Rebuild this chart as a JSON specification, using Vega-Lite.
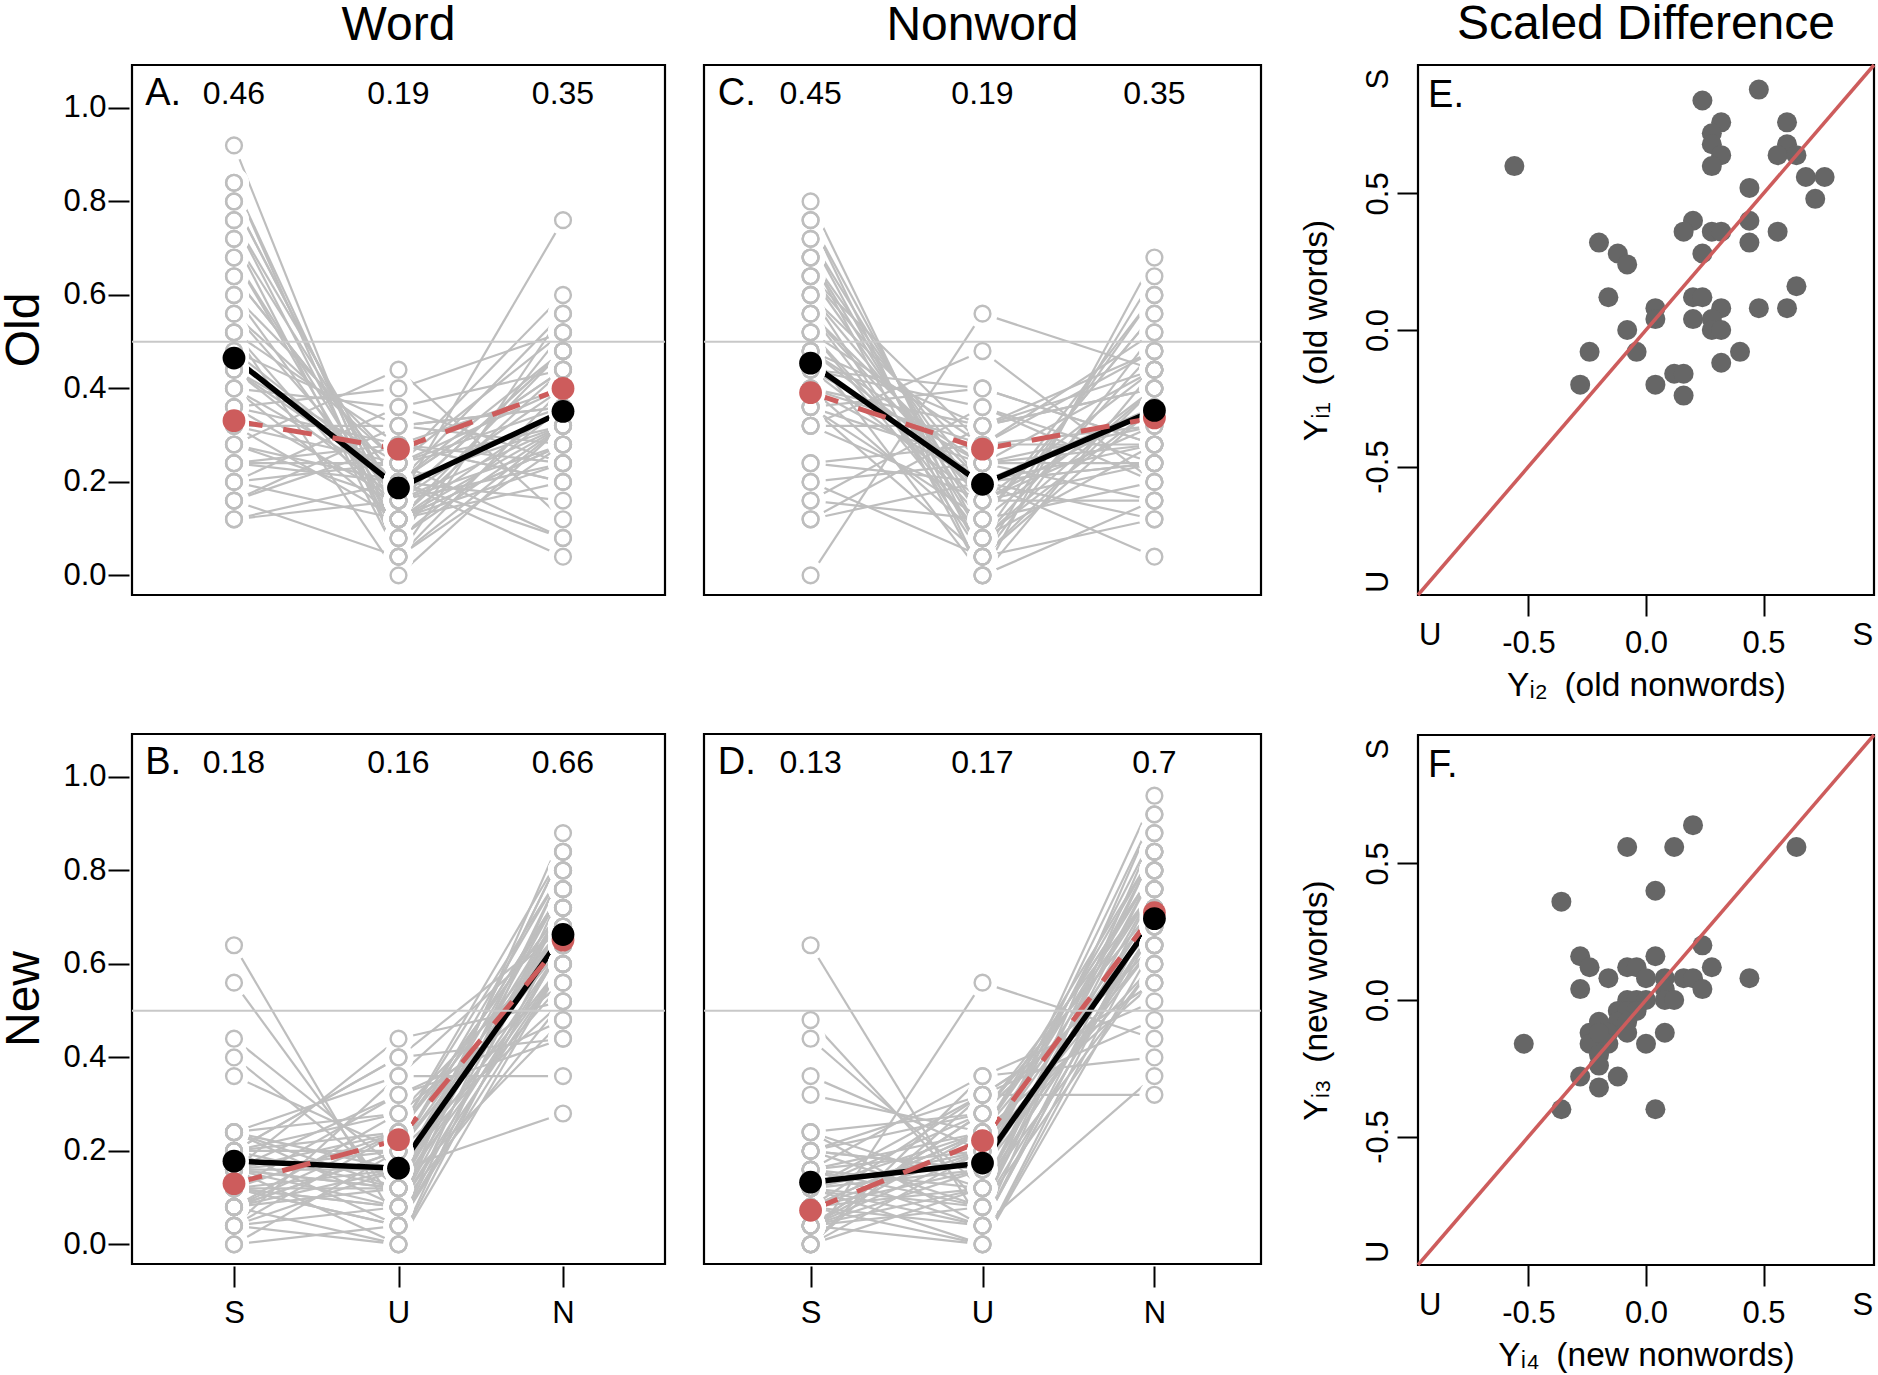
{
"$schema":"https://vega.github.io/schema/vega-lite/v6.json",
"padding":{"left":0,"top":0,"right":0,"bottom":0},
"background":"white",
"config":{"view":{"stroke":"black","strokeWidth":2.2},"font":"Liberation Sans",
"axis":{"grid":false,"domain":false,"tickSize":21,"tickWidth":2,"tickColor":"black","labelFontSize":31,"labelColor":"black","labelFont":"Liberation Sans","titleFont":"Liberation Sans","titleColor":"black","titleFontWeight":"normal","titleFontSize":31,"labelFlush":false,"labelOverlap":false},
"title":{"font":"Liberation Sans","fontSize":48,"fontWeight":"normal","color":"black"}},
"datasets":{
"main":[
{"lex":"Word","age":"Old","k":"s","S":0.92,"U":0.04,"N":0.28},{"lex":"Word","age":"Old","k":"s","S":0.84,"U":0.08,"N":0.32},{"lex":"Word","age":"Old","k":"s","S":0.84,"U":0.04,"N":0.32},{"lex":"Word","age":"Old","k":"s","S":0.80,"U":0.12,"N":0.44},{"lex":"Word","age":"Old","k":"s","S":0.80,"U":0.12,"N":0.24},{"lex":"Word","age":"Old","k":"s","S":0.76,"U":0.16,"N":0.48},{"lex":"Word","age":"Old","k":"s","S":0.76,"U":0.08,"N":0.36},{"lex":"Word","age":"Old","k":"s","S":0.72,"U":0.16,"N":0.24},{"lex":"Word","age":"Old","k":"s","S":0.72,"U":0.04,"N":0.40},{"lex":"Word","age":"Old","k":"s","S":0.68,"U":0.12,"N":0.28},{"lex":"Word","age":"Old","k":"s","S":0.68,"U":0.08,"N":0.52},{"lex":"Word","age":"Old","k":"s","S":0.64,"U":0.20,"N":0.16},{"lex":"Word","age":"Old","k":"s","S":0.64,"U":0.20,"N":0.44},{"lex":"Word","age":"Old","k":"s","S":0.60,"U":0.12,"N":0.32},{"lex":"Word","age":"Old","k":"s","S":0.60,"U":0.24,"N":0.08},{"lex":"Word","age":"Old","k":"s","S":0.56,"U":0.16,"N":0.40},{"lex":"Word","age":"Old","k":"s","S":0.56,"U":0.24,"N":0.36},{"lex":"Word","age":"Old","k":"s","S":0.52,"U":0.28,"N":0.20},{"lex":"Word","age":"Old","k":"s","S":0.52,"U":0.12,"N":0.48},{"lex":"Word","age":"Old","k":"s","S":0.48,"U":0.20,"N":0.04},{"lex":"Word","age":"Old","k":"s","S":0.48,"U":0.32,"N":0.36},{"lex":"Word","age":"Old","k":"s","S":0.44,"U":0.16,"N":0.76},{"lex":"Word","age":"Old","k":"s","S":0.44,"U":0.24,"N":0.32},{"lex":"Word","age":"Old","k":"s","S":0.44,"U":0.20,"N":0.56},{"lex":"Word","age":"Old","k":"s","S":0.40,"U":0.36,"N":0.24},{"lex":"Word","age":"Old","k":"s","S":0.40,"U":0.20,"N":0.44},{"lex":"Word","age":"Old","k":"s","S":0.40,"U":0.12,"N":0.28},{"lex":"Word","age":"Old","k":"s","S":0.36,"U":0.28,"N":0.40},{"lex":"Word","age":"Old","k":"s","S":0.36,"U":0.16,"N":0.28},{"lex":"Word","age":"Old","k":"s","S":0.36,"U":0.40,"N":0.52},{"lex":"Word","age":"Old","k":"s","S":0.32,"U":0.24,"N":0.60},{"lex":"Word","age":"Old","k":"s","S":0.32,"U":0.12,"N":0.20},{"lex":"Word","age":"Old","k":"s","S":0.32,"U":0.32,"N":0.36},{"lex":"Word","age":"Old","k":"s","S":0.28,"U":0.20,"N":0.48},{"lex":"Word","age":"Old","k":"s","S":0.28,"U":0.44,"N":0.12},{"lex":"Word","age":"Old","k":"s","S":0.28,"U":0.16,"N":0.32},{"lex":"Word","age":"Old","k":"s","S":0.24,"U":0.28,"N":0.24},{"lex":"Word","age":"Old","k":"s","S":0.24,"U":0.24,"N":0.40},{"lex":"Word","age":"Old","k":"s","S":0.24,"U":0.20,"N":0.08},{"lex":"Word","age":"Old","k":"s","S":0.20,"U":0.36,"N":0.44},{"lex":"Word","age":"Old","k":"s","S":0.20,"U":0.24,"N":0.52},{"lex":"Word","age":"Old","k":"s","S":0.20,"U":0.12,"N":0.36},{"lex":"Word","age":"Old","k":"s","S":0.16,"U":0.32,"N":0.28},{"lex":"Word","age":"Old","k":"s","S":0.16,"U":0.04,"N":0.56},{"lex":"Word","age":"Old","k":"s","S":0.16,"U":0.28,"N":0.20},{"lex":"Word","age":"Old","k":"s","S":0.12,"U":0.20,"N":0.32},{"lex":"Word","age":"Old","k":"s","S":0.12,"U":0.16,"N":0.48},{"lex":"Word","age":"Old","k":"s","S":0.52,"U":0.00,"N":0.32},
{"lex":"Nonword","age":"Old","k":"s","S":0.80,"U":0.04,"N":0.36},{"lex":"Nonword","age":"Old","k":"s","S":0.76,"U":0.08,"N":0.28},{"lex":"Nonword","age":"Old","k":"s","S":0.76,"U":0.00,"N":0.44},{"lex":"Nonword","age":"Old","k":"s","S":0.72,"U":0.12,"N":0.20},{"lex":"Nonword","age":"Old","k":"s","S":0.72,"U":0.04,"N":0.52},{"lex":"Nonword","age":"Old","k":"s","S":0.68,"U":0.16,"N":0.32},{"lex":"Nonword","age":"Old","k":"s","S":0.68,"U":0.08,"N":0.60},{"lex":"Nonword","age":"Old","k":"s","S":0.64,"U":0.20,"N":0.24},{"lex":"Nonword","age":"Old","k":"s","S":0.64,"U":0.12,"N":0.40},{"lex":"Nonword","age":"Old","k":"s","S":0.60,"U":0.04,"N":0.64},{"lex":"Nonword","age":"Old","k":"s","S":0.60,"U":0.24,"N":0.16},{"lex":"Nonword","age":"Old","k":"s","S":0.56,"U":0.16,"N":0.36},{"lex":"Nonword","age":"Old","k":"s","S":0.56,"U":0.08,"N":0.48},{"lex":"Nonword","age":"Old","k":"s","S":0.52,"U":0.28,"N":0.28},{"lex":"Nonword","age":"Old","k":"s","S":0.52,"U":0.12,"N":0.56},{"lex":"Nonword","age":"Old","k":"s","S":0.48,"U":0.20,"N":0.12},{"lex":"Nonword","age":"Old","k":"s","S":0.48,"U":0.32,"N":0.40},{"lex":"Nonword","age":"Old","k":"s","S":0.48,"U":0.00,"N":0.68},{"lex":"Nonword","age":"Old","k":"s","S":0.44,"U":0.24,"N":0.32},{"lex":"Nonword","age":"Old","k":"s","S":0.44,"U":0.16,"N":0.44},{"lex":"Nonword","age":"Old","k":"s","S":0.44,"U":0.36,"N":0.20},{"lex":"Nonword","age":"Old","k":"s","S":0.40,"U":0.08,"N":0.36},{"lex":"Nonword","age":"Old","k":"s","S":0.40,"U":0.28,"N":0.52},{"lex":"Nonword","age":"Old","k":"s","S":0.40,"U":0.20,"N":0.24},{"lex":"Nonword","age":"Old","k":"s","S":0.36,"U":0.40,"N":0.28},{"lex":"Nonword","age":"Old","k":"s","S":0.36,"U":0.12,"N":0.60},{"lex":"Nonword","age":"Old","k":"s","S":0.36,"U":0.24,"N":0.44},{"lex":"Nonword","age":"Old","k":"s","S":0.32,"U":0.16,"N":0.16},{"lex":"Nonword","age":"Old","k":"s","S":0.32,"U":0.32,"N":0.48},{"lex":"Nonword","age":"Old","k":"s","S":0.32,"U":0.48,"N":0.20},{"lex":"Nonword","age":"Old","k":"s","S":0.24,"U":0.20,"N":0.36},{"lex":"Nonword","age":"Old","k":"s","S":0.24,"U":0.28,"N":0.32},{"lex":"Nonword","age":"Old","k":"s","S":0.20,"U":0.04,"N":0.40},{"lex":"Nonword","age":"Old","k":"s","S":0.20,"U":0.24,"N":0.28},{"lex":"Nonword","age":"Old","k":"s","S":0.16,"U":0.36,"N":0.24},{"lex":"Nonword","age":"Old","k":"s","S":0.16,"U":0.12,"N":0.56},{"lex":"Nonword","age":"Old","k":"s","S":0.12,"U":0.20,"N":0.04},{"lex":"Nonword","age":"Old","k":"s","S":0.12,"U":0.32,"N":0.44},{"lex":"Nonword","age":"Old","k":"s","S":0.00,"U":0.56,"N":0.44},{"lex":"Nonword","age":"Old","k":"s","S":0.60,"U":0.16,"N":0.24},{"lex":"Nonword","age":"Old","k":"s","S":0.52,"U":0.08,"N":0.40},{"lex":"Nonword","age":"Old","k":"s","S":0.44,"U":0.40,"N":0.28},{"lex":"Nonword","age":"Old","k":"s","S":0.56,"U":0.20,"N":0.28},{"lex":"Nonword","age":"Old","k":"s","S":0.64,"U":0.28,"N":0.48},{"lex":"Nonword","age":"Old","k":"s","S":0.36,"U":0.04,"N":0.12},{"lex":"Nonword","age":"Old","k":"s","S":0.48,"U":0.24,"N":0.24},{"lex":"Nonword","age":"Old","k":"s","S":0.68,"U":0.00,"N":0.16},{"lex":"Nonword","age":"Old","k":"s","S":0.40,"U":0.32,"N":0.40},
{"lex":"Word","age":"New","k":"s","S":0.64,"U":0.04,"N":0.72},{"lex":"Word","age":"New","k":"s","S":0.56,"U":0.08,"N":0.64},{"lex":"Word","age":"New","k":"s","S":0.44,"U":0.16,"N":0.60},{"lex":"Word","age":"New","k":"s","S":0.40,"U":0.12,"N":0.76},{"lex":"Word","age":"New","k":"s","S":0.36,"U":0.20,"N":0.52},{"lex":"Word","age":"New","k":"s","S":0.24,"U":0.36,"N":0.68},{"lex":"Word","age":"New","k":"s","S":0.24,"U":0.08,"N":0.80},{"lex":"Word","age":"New","k":"s","S":0.24,"U":0.28,"N":0.56},{"lex":"Word","age":"New","k":"s","S":0.20,"U":0.40,"N":0.44},{"lex":"Word","age":"New","k":"s","S":0.20,"U":0.12,"N":0.72},{"lex":"Word","age":"New","k":"s","S":0.20,"U":0.24,"N":0.84},{"lex":"Word","age":"New","k":"s","S":0.20,"U":0.04,"N":0.60},{"lex":"Word","age":"New","k":"s","S":0.16,"U":0.32,"N":0.48},{"lex":"Word","age":"New","k":"s","S":0.16,"U":0.16,"N":0.76},{"lex":"Word","age":"New","k":"s","S":0.16,"U":0.00,"N":0.68},{"lex":"Word","age":"New","k":"s","S":0.16,"U":0.20,"N":0.64},{"lex":"Word","age":"New","k":"s","S":0.16,"U":0.44,"N":0.52},{"lex":"Word","age":"New","k":"s","S":0.12,"U":0.08,"N":0.88},{"lex":"Word","age":"New","k":"s","S":0.12,"U":0.24,"N":0.72},{"lex":"Word","age":"New","k":"s","S":0.12,"U":0.12,"N":0.60},{"lex":"Word","age":"New","k":"s","S":0.12,"U":0.32,"N":0.44},{"lex":"Word","age":"New","k":"s","S":0.12,"U":0.04,"N":0.80},{"lex":"Word","age":"New","k":"s","S":0.08,"U":0.20,"N":0.68},{"lex":"Word","age":"New","k":"s","S":0.08,"U":0.16,"N":0.56},{"lex":"Word","age":"New","k":"s","S":0.08,"U":0.00,"N":0.76},{"lex":"Word","age":"New","k":"s","S":0.08,"U":0.28,"N":0.64},{"lex":"Word","age":"New","k":"s","S":0.08,"U":0.12,"N":0.84},{"lex":"Word","age":"New","k":"s","S":0.04,"U":0.24,"N":0.72},{"lex":"Word","age":"New","k":"s","S":0.04,"U":0.08,"N":0.60},{"lex":"Word","age":"New","k":"s","S":0.04,"U":0.16,"N":0.68},{"lex":"Word","age":"New","k":"s","S":0.04,"U":0.36,"N":0.36},{"lex":"Word","age":"New","k":"s","S":0.00,"U":0.20,"N":0.80},{"lex":"Word","age":"New","k":"s","S":0.00,"U":0.04,"N":0.64},{"lex":"Word","age":"New","k":"s","S":0.24,"U":0.12,"N":0.48},{"lex":"Word","age":"New","k":"s","S":0.20,"U":0.20,"N":0.76},{"lex":"Word","age":"New","k":"s","S":0.16,"U":0.08,"N":0.72},{"lex":"Word","age":"New","k":"s","S":0.12,"U":0.16,"N":0.28},{"lex":"Word","age":"New","k":"s","S":0.08,"U":0.24,"N":0.68},{"lex":"Word","age":"New","k":"s","S":0.20,"U":0.28,"N":0.56},{"lex":"Word","age":"New","k":"s","S":0.16,"U":0.12,"N":0.84},{"lex":"Word","age":"New","k":"s","S":0.12,"U":0.04,"N":0.64},{"lex":"Word","age":"New","k":"s","S":0.24,"U":0.16,"N":0.72},{"lex":"Word","age":"New","k":"s","S":0.04,"U":0.00,"N":0.60},{"lex":"Word","age":"New","k":"s","S":0.20,"U":0.40,"N":0.68},{"lex":"Word","age":"New","k":"s","S":0.16,"U":0.24,"N":0.80},{"lex":"Word","age":"New","k":"s","S":0.12,"U":0.08,"N":0.52},{"lex":"Word","age":"New","k":"s","S":0.08,"U":0.20,"N":0.76},{"lex":"Word","age":"New","k":"s","S":0.16,"U":0.12,"N":0.64},
{"lex":"Nonword","age":"New","k":"s","S":0.64,"U":0.04,"N":0.72},{"lex":"Nonword","age":"New","k":"s","S":0.48,"U":0.08,"N":0.68},{"lex":"Nonword","age":"New","k":"s","S":0.44,"U":0.12,"N":0.80},{"lex":"Nonword","age":"New","k":"s","S":0.36,"U":0.20,"N":0.60},{"lex":"Nonword","age":"New","k":"s","S":0.32,"U":0.24,"N":0.76},{"lex":"Nonword","age":"New","k":"s","S":0.24,"U":0.12,"N":0.84},{"lex":"Nonword","age":"New","k":"s","S":0.24,"U":0.28,"N":0.64},{"lex":"Nonword","age":"New","k":"s","S":0.20,"U":0.08,"N":0.92},{"lex":"Nonword","age":"New","k":"s","S":0.20,"U":0.32,"N":0.56},{"lex":"Nonword","age":"New","k":"s","S":0.20,"U":0.16,"N":0.72},{"lex":"Nonword","age":"New","k":"s","S":0.16,"U":0.04,"N":0.88},{"lex":"Nonword","age":"New","k":"s","S":0.16,"U":0.24,"N":0.68},{"lex":"Nonword","age":"New","k":"s","S":0.16,"U":0.36,"N":0.52},{"lex":"Nonword","age":"New","k":"s","S":0.16,"U":0.12,"N":0.76},{"lex":"Nonword","age":"New","k":"s","S":0.12,"U":0.20,"N":0.80},{"lex":"Nonword","age":"New","k":"s","S":0.12,"U":0.00,"N":0.64},{"lex":"Nonword","age":"New","k":"s","S":0.12,"U":0.28,"N":0.72},{"lex":"Nonword","age":"New","k":"s","S":0.12,"U":0.16,"N":0.96},{"lex":"Nonword","age":"New","k":"s","S":0.12,"U":0.08,"N":0.60},{"lex":"Nonword","age":"New","k":"s","S":0.08,"U":0.24,"N":0.84},{"lex":"Nonword","age":"New","k":"s","S":0.08,"U":0.12,"N":0.68},{"lex":"Nonword","age":"New","k":"s","S":0.08,"U":0.32,"N":0.48},{"lex":"Nonword","age":"New","k":"s","S":0.08,"U":0.04,"N":0.76},{"lex":"Nonword","age":"New","k":"s","S":0.08,"U":0.20,"N":0.72},{"lex":"Nonword","age":"New","k":"s","S":0.04,"U":0.16,"N":0.88},{"lex":"Nonword","age":"New","k":"s","S":0.04,"U":0.28,"N":0.64},{"lex":"Nonword","age":"New","k":"s","S":0.04,"U":0.08,"N":0.80},{"lex":"Nonword","age":"New","k":"s","S":0.04,"U":0.24,"N":0.56},{"lex":"Nonword","age":"New","k":"s","S":0.04,"U":0.00,"N":0.72},{"lex":"Nonword","age":"New","k":"s","S":0.00,"U":0.56,"N":0.44},{"lex":"Nonword","age":"New","k":"s","S":0.00,"U":0.12,"N":0.68},{"lex":"Nonword","age":"New","k":"s","S":0.00,"U":0.20,"N":0.84},{"lex":"Nonword","age":"New","k":"s","S":0.00,"U":0.36,"N":0.40},{"lex":"Nonword","age":"New","k":"s","S":0.20,"U":0.28,"N":0.76},{"lex":"Nonword","age":"New","k":"s","S":0.16,"U":0.20,"N":0.64},{"lex":"Nonword","age":"New","k":"s","S":0.12,"U":0.24,"N":0.80},{"lex":"Nonword","age":"New","k":"s","S":0.08,"U":0.16,"N":0.92},{"lex":"Nonword","age":"New","k":"s","S":0.04,"U":0.12,"N":0.60},{"lex":"Nonword","age":"New","k":"s","S":0.00,"U":0.32,"N":0.32},{"lex":"Nonword","age":"New","k":"s","S":0.24,"U":0.04,"N":0.72},{"lex":"Nonword","age":"New","k":"s","S":0.16,"U":0.08,"N":0.84},{"lex":"Nonword","age":"New","k":"s","S":0.12,"U":0.32,"N":0.56},{"lex":"Nonword","age":"New","k":"s","S":0.08,"U":0.00,"N":0.68},{"lex":"Nonword","age":"New","k":"s","S":0.04,"U":0.20,"N":0.76},{"lex":"Nonword","age":"New","k":"s","S":0.20,"U":0.16,"N":0.64},{"lex":"Nonword","age":"New","k":"s","S":0.12,"U":0.04,"N":0.36},{"lex":"Nonword","age":"New","k":"s","S":0.08,"U":0.24,"N":0.80},{"lex":"Nonword","age":"New","k":"s","S":0.04,"U":0.28,"N":0.72},
{"lex":"Word","age":"Old","k":"b","S":0.465,"U":0.187,"N":0.351,"tS":"0.46","tU":"0.19","tN":"0.35","L":"A."},
{"lex":"Word","age":"Old","k":"r","S":0.331,"U":0.270,"N":0.400},
{"lex":"Nonword","age":"Old","k":"b","S":0.454,"U":0.195,"N":0.353,"tS":"0.45","tU":"0.19","tN":"0.35","L":"C."},
{"lex":"Nonword","age":"Old","k":"r","S":0.391,"U":0.270,"N":0.337},
{"lex":"Word","age":"New","k":"b","S":0.178,"U":0.163,"N":0.663,"tS":"0.18","tU":"0.16","tN":"0.66","L":"B."},
{"lex":"Word","age":"New","k":"r","S":0.130,"U":0.224,"N":0.651},
{"lex":"Nonword","age":"New","k":"b","S":0.133,"U":0.174,"N":0.697,"tS":"0.13","tU":"0.17","tN":"0.7","L":"D."},
{"lex":"Nonword","age":"New","k":"r","S":0.073,"U":0.222,"N":0.710}
],
"sc":[
{"p":"E","x":0.48,"y":0.88},{"p":"E","x":0.24,"y":0.84},{"p":"E","x":0.32,"y":0.76},{"p":"E","x":0.28,"y":0.72},{"p":"E","x":0.28,"y":0.68},{"p":"E","x":0.32,"y":0.64},{"p":"E","x":0.28,"y":0.60},{"p":"E","x":0.60,"y":0.76},{"p":"E","x":0.60,"y":0.68},{"p":"E","x":0.56,"y":0.64},{"p":"E","x":0.64,"y":0.64},{"p":"E","x":-0.56,"y":0.60},{"p":"E","x":0.68,"y":0.56},{"p":"E","x":0.76,"y":0.56},{"p":"E","x":0.72,"y":0.48},{"p":"E","x":0.44,"y":0.52},{"p":"E","x":0.20,"y":0.40},{"p":"E","x":0.16,"y":0.36},{"p":"E","x":0.28,"y":0.36},{"p":"E","x":0.32,"y":0.36},{"p":"E","x":0.44,"y":0.40},{"p":"E","x":0.56,"y":0.36},{"p":"E","x":0.44,"y":0.32},{"p":"E","x":0.24,"y":0.28},{"p":"E","x":-0.20,"y":0.32},{"p":"E","x":-0.12,"y":0.28},{"p":"E","x":-0.08,"y":0.24},{"p":"E","x":0.64,"y":0.16},{"p":"E","x":-0.16,"y":0.12},{"p":"E","x":0.20,"y":0.12},{"p":"E","x":0.24,"y":0.12},{"p":"E","x":0.04,"y":0.08},{"p":"E","x":0.32,"y":0.08},{"p":"E","x":0.48,"y":0.08},{"p":"E","x":0.60,"y":0.08},{"p":"E","x":0.04,"y":0.04},{"p":"E","x":0.20,"y":0.04},{"p":"E","x":0.28,"y":0.04},{"p":"E","x":-0.08,"y":0.00},{"p":"E","x":0.28,"y":0.00},{"p":"E","x":0.32,"y":0.00},{"p":"E","x":-0.24,"y":-0.08},{"p":"E","x":-0.04,"y":-0.08},{"p":"E","x":0.40,"y":-0.08},{"p":"E","x":0.32,"y":-0.12},{"p":"E","x":0.12,"y":-0.16},{"p":"E","x":0.16,"y":-0.16},{"p":"E","x":-0.28,"y":-0.20},{"p":"E","x":0.04,"y":-0.20},{"p":"E","x":0.16,"y":-0.24},
{"p":"F","x":0.20,"y":0.64},{"p":"F","x":-0.08,"y":0.56},{"p":"F","x":0.12,"y":0.56},{"p":"F","x":0.64,"y":0.56},{"p":"F","x":0.04,"y":0.40},{"p":"F","x":-0.36,"y":0.36},{"p":"F","x":0.24,"y":0.20},{"p":"F","x":-0.28,"y":0.16},{"p":"F","x":0.04,"y":0.16},{"p":"F","x":-0.24,"y":0.12},{"p":"F","x":-0.08,"y":0.12},{"p":"F","x":-0.04,"y":0.12},{"p":"F","x":0.28,"y":0.12},{"p":"F","x":-0.16,"y":0.08},{"p":"F","x":0.00,"y":0.08},{"p":"F","x":0.08,"y":0.08},{"p":"F","x":0.16,"y":0.08},{"p":"F","x":0.20,"y":0.08},{"p":"F","x":0.44,"y":0.08},{"p":"F","x":-0.28,"y":0.04},{"p":"F","x":0.08,"y":0.04},{"p":"F","x":0.24,"y":0.04},{"p":"F","x":-0.08,"y":0.00},{"p":"F","x":-0.04,"y":0.00},{"p":"F","x":0.00,"y":0.00},{"p":"F","x":0.08,"y":0.00},{"p":"F","x":0.12,"y":0.00},{"p":"F","x":-0.12,"y":-0.04},{"p":"F","x":-0.08,"y":-0.04},{"p":"F","x":-0.04,"y":-0.04},{"p":"F","x":-0.12,"y":-0.08},{"p":"F","x":-0.08,"y":-0.08},{"p":"F","x":-0.20,"y":-0.08},{"p":"F","x":-0.24,"y":-0.12},{"p":"F","x":-0.16,"y":-0.12},{"p":"F","x":-0.08,"y":-0.12},{"p":"F","x":0.08,"y":-0.12},{"p":"F","x":-0.24,"y":-0.16},{"p":"F","x":-0.16,"y":-0.16},{"p":"F","x":0.00,"y":-0.16},{"p":"F","x":-0.52,"y":-0.16},{"p":"F","x":-0.20,"y":-0.20},{"p":"F","x":-0.20,"y":-0.24},{"p":"F","x":-0.28,"y":-0.28},{"p":"F","x":-0.12,"y":-0.28},{"p":"F","x":-0.20,"y":-0.32},{"p":"F","x":-0.36,"y":-0.40},{"p":"F","x":0.04,"y":-0.40},{"p":"F","x":-0.20,"y":-0.12}
]},
"spacing":33,
"hconcat":[
{"data":{"name":"main"},"transform":[{"filter":"datum.lex=='Word'"}],
"facet":{"row":{"field":"age","type":"nominal","sort":["Old","New"],"title":null,"header":{"labelFontSize":48,"labelAngle":-90,"labelPadding":-10,"labelFont":"Liberation Sans","labelColor":"black"}},
"column":{"field":"lex","type":"nominal","title":null,"header":{"labelFontSize":48,"labelPadding":13,"labelFont":"Liberation Sans","labelColor":"black"}}},
"spacing":{"row":135,"column":0},
"spec":{"width":533,"height":530,"layer":[
{"transform":[{"filter":"datum.k=='s'"}],"mark":{"type":"rule","color":"#BEBEBE","strokeWidth":2.2},"encoding":{"x":{"datum":1,"type":"quantitative","scale":{"domain":[0.38,3.62],"nice":false,"zero":false},"axis":{"values":[1,2,3],"labelExpr":"datum.value==1?'S':datum.value==2?'U':'N'","title":null,"labelPadding":11}},"x2":{"datum":2},"y":{"field":"S","type":"quantitative","scale":{"domain":[-0.042,1.092],"nice":false,"zero":false},"axis":{"values":[0,0.2,0.4,0.6,0.8,1],"format":".1f","title":null,"labelPadding":2}},"y2":{"field":"U"}}},
{"transform":[{"filter":"datum.k=='s'"}],"mark":{"type":"rule","color":"#BEBEBE","strokeWidth":2.2},"encoding":{"x":{"datum":2,"type":"quantitative","axis":{"title":null}},"x2":{"datum":3},"y":{"field":"U","type":"quantitative","axis":{"title":null}},"y2":{"field":"N"}}},
{"transform":[{"filter":"datum.k=='b'"}],"mark":{"type":"rule","color":"black","strokeWidth":5.5},"encoding":{"x":{"datum":1,"type":"quantitative","axis":{"title":null}},"x2":{"datum":2},"y":{"field":"S","type":"quantitative","axis":{"title":null}},"y2":{"field":"U"}}},
{"transform":[{"filter":"datum.k=='b'"}],"mark":{"type":"rule","color":"black","strokeWidth":5.5},"encoding":{"x":{"datum":2,"type":"quantitative","axis":{"title":null}},"x2":{"datum":3},"y":{"field":"U","type":"quantitative","axis":{"title":null}},"y2":{"field":"N"}}},
{"transform":[{"filter":"datum.k=='r'"}],"mark":{"type":"rule","color":"#CD5C5C","strokeWidth":5,"strokeDash":[29,21]},"encoding":{"x":{"datum":1,"type":"quantitative","axis":{"title":null}},"x2":{"datum":2},"y":{"field":"S","type":"quantitative","axis":{"title":null}},"y2":{"field":"U"}}},
{"transform":[{"filter":"datum.k=='r'"}],"mark":{"type":"rule","color":"#CD5C5C","strokeWidth":5,"strokeDash":[29,21]},"encoding":{"x":{"datum":2,"type":"quantitative","axis":{"title":null}},"x2":{"datum":3},"y":{"field":"U","type":"quantitative","axis":{"title":null}},"y2":{"field":"N"}}},
{"mark":{"type":"point","filled":true,"color":"white","opacity":1,"size":900,"strokeWidth":0},"encoding":{"x":{"datum":1,"type":"quantitative","axis":{"title":null}},"y":{"field":"S","type":"quantitative","axis":{"title":null}}}},
{"mark":{"type":"point","filled":true,"color":"white","opacity":1,"size":900,"strokeWidth":0},"encoding":{"x":{"datum":2,"type":"quantitative","axis":{"title":null}},"y":{"field":"U","type":"quantitative","axis":{"title":null}}}},
{"mark":{"type":"point","filled":true,"color":"white","opacity":1,"size":900,"strokeWidth":0},"encoding":{"x":{"datum":3,"type":"quantitative","axis":{"title":null}},"y":{"field":"N","type":"quantitative","axis":{"title":null}}}},
{"transform":[{"filter":"datum.k=='b'"}],"mark":{"type":"rule","color":"#C8C8C8","strokeWidth":2},"encoding":{"y":{"datum":0.5,"type":"quantitative","axis":{"title":null}}}},
{"transform":[{"filter":"datum.k=='s'"}],"mark":{"type":"point","filled":false,"color":"#BEBEBE","opacity":1,"size":250,"strokeWidth":2.4},"encoding":{"x":{"datum":1,"type":"quantitative","axis":{"title":null}},"y":{"field":"S","type":"quantitative","axis":{"title":null}}}},
{"transform":[{"filter":"datum.k=='s'"}],"mark":{"type":"point","filled":false,"color":"#BEBEBE","opacity":1,"size":250,"strokeWidth":2.4},"encoding":{"x":{"datum":2,"type":"quantitative","axis":{"title":null}},"y":{"field":"U","type":"quantitative","axis":{"title":null}}}},
{"transform":[{"filter":"datum.k=='s'"}],"mark":{"type":"point","filled":false,"color":"#BEBEBE","opacity":1,"size":250,"strokeWidth":2.4},"encoding":{"x":{"datum":3,"type":"quantitative","axis":{"title":null}},"y":{"field":"N","type":"quantitative","axis":{"title":null}}}},
{"transform":[{"filter":"datum.k=='r'"}],"mark":{"type":"point","filled":true,"color":"#CD5C5C","opacity":1,"size":520},"encoding":{"x":{"datum":1,"type":"quantitative","axis":{"title":null}},"y":{"field":"S","type":"quantitative","axis":{"title":null}}}},
{"transform":[{"filter":"datum.k=='r'"}],"mark":{"type":"point","filled":true,"color":"#CD5C5C","opacity":1,"size":520},"encoding":{"x":{"datum":2,"type":"quantitative","axis":{"title":null}},"y":{"field":"U","type":"quantitative","axis":{"title":null}}}},
{"transform":[{"filter":"datum.k=='r'"}],"mark":{"type":"point","filled":true,"color":"#CD5C5C","opacity":1,"size":520},"encoding":{"x":{"datum":3,"type":"quantitative","axis":{"title":null}},"y":{"field":"N","type":"quantitative","axis":{"title":null}}}},
{"transform":[{"filter":"datum.k=='b'"}],"mark":{"type":"point","filled":true,"color":"black","opacity":1,"size":520},"encoding":{"x":{"datum":1,"type":"quantitative","axis":{"title":null}},"y":{"field":"S","type":"quantitative","axis":{"title":null}}}},
{"transform":[{"filter":"datum.k=='b'"}],"mark":{"type":"point","filled":true,"color":"black","opacity":1,"size":520},"encoding":{"x":{"datum":2,"type":"quantitative","axis":{"title":null}},"y":{"field":"U","type":"quantitative","axis":{"title":null}}}},
{"transform":[{"filter":"datum.k=='b'"}],"mark":{"type":"point","filled":true,"color":"black","opacity":1,"size":520},"encoding":{"x":{"datum":3,"type":"quantitative","axis":{"title":null}},"y":{"field":"N","type":"quantitative","axis":{"title":null}}}},
{"transform":[{"filter":"datum.k=='b'"}],"mark":{"type":"text","fontSize":32,"font":"Liberation Sans","align":"center","baseline":"middle","color":"black"},"encoding":{"x":{"datum":1,"type":"quantitative","axis":{"title":null}},"y":{"datum":1.03,"type":"quantitative","axis":{"title":null}},"text":{"field":"tS"}}},
{"transform":[{"filter":"datum.k=='b'"}],"mark":{"type":"text","fontSize":32,"font":"Liberation Sans","align":"center","baseline":"middle","color":"black"},"encoding":{"x":{"datum":2,"type":"quantitative","axis":{"title":null}},"y":{"datum":1.03,"type":"quantitative","axis":{"title":null}},"text":{"field":"tU"}}},
{"transform":[{"filter":"datum.k=='b'"}],"mark":{"type":"text","fontSize":32,"font":"Liberation Sans","align":"center","baseline":"middle","color":"black"},"encoding":{"x":{"datum":3,"type":"quantitative","axis":{"title":null}},"y":{"datum":1.03,"type":"quantitative","axis":{"title":null}},"text":{"field":"tN"}}},
{"transform":[{"filter":"datum.k=='b'"}],"mark":{"type":"text","fontSize":38,"font":"Liberation Sans","align":"left","baseline":"middle","color":"black"},"encoding":{"x":{"datum":0.46,"type":"quantitative","axis":{"title":null}},"y":{"datum":1.03,"type":"quantitative","axis":{"title":null}},"text":{"field":"L"}}}
]}},
{"data":{"name":"main"},"transform":[{"filter":"datum.lex=='Nonword'"}],
"facet":{"row":{"field":"age","type":"nominal","sort":["Old","New"],"title":null,"header":null},
"column":{"field":"lex","type":"nominal","title":null,"header":{"labelFontSize":48,"labelPadding":13,"labelFont":"Liberation Sans","labelColor":"black"}}},
"spacing":{"row":135,"column":0},
"spec":{"width":557,"height":530,"layer":[
{"transform":[{"filter":"datum.k=='s'"}],"mark":{"type":"rule","color":"#BEBEBE","strokeWidth":2.2},"encoding":{"x":{"datum":1,"type":"quantitative","scale":{"domain":[0.38,3.62],"nice":false,"zero":false},"axis":{"values":[1,2,3],"labelExpr":"datum.value==1?'S':datum.value==2?'U':'N'","title":null,"labelPadding":11}},"x2":{"datum":2},"y":{"field":"S","type":"quantitative","scale":{"domain":[-0.042,1.092],"nice":false,"zero":false},"axis":null},"y2":{"field":"U"}}},
{"transform":[{"filter":"datum.k=='s'"}],"mark":{"type":"rule","color":"#BEBEBE","strokeWidth":2.2},"encoding":{"x":{"datum":2,"type":"quantitative","axis":{"title":null}},"x2":{"datum":3},"y":{"field":"U","type":"quantitative","axis":null},"y2":{"field":"N"}}},
{"transform":[{"filter":"datum.k=='b'"}],"mark":{"type":"rule","color":"black","strokeWidth":5.5},"encoding":{"x":{"datum":1,"type":"quantitative","axis":{"title":null}},"x2":{"datum":2},"y":{"field":"S","type":"quantitative","axis":null},"y2":{"field":"U"}}},
{"transform":[{"filter":"datum.k=='b'"}],"mark":{"type":"rule","color":"black","strokeWidth":5.5},"encoding":{"x":{"datum":2,"type":"quantitative","axis":{"title":null}},"x2":{"datum":3},"y":{"field":"U","type":"quantitative","axis":null},"y2":{"field":"N"}}},
{"transform":[{"filter":"datum.k=='r'"}],"mark":{"type":"rule","color":"#CD5C5C","strokeWidth":5,"strokeDash":[29,21]},"encoding":{"x":{"datum":1,"type":"quantitative","axis":{"title":null}},"x2":{"datum":2},"y":{"field":"S","type":"quantitative","axis":null},"y2":{"field":"U"}}},
{"transform":[{"filter":"datum.k=='r'"}],"mark":{"type":"rule","color":"#CD5C5C","strokeWidth":5,"strokeDash":[29,21]},"encoding":{"x":{"datum":2,"type":"quantitative","axis":{"title":null}},"x2":{"datum":3},"y":{"field":"U","type":"quantitative","axis":null},"y2":{"field":"N"}}},
{"mark":{"type":"point","filled":true,"color":"white","opacity":1,"size":900,"strokeWidth":0},"encoding":{"x":{"datum":1,"type":"quantitative","axis":{"title":null}},"y":{"field":"S","type":"quantitative","axis":null}}},
{"mark":{"type":"point","filled":true,"color":"white","opacity":1,"size":900,"strokeWidth":0},"encoding":{"x":{"datum":2,"type":"quantitative","axis":{"title":null}},"y":{"field":"U","type":"quantitative","axis":null}}},
{"mark":{"type":"point","filled":true,"color":"white","opacity":1,"size":900,"strokeWidth":0},"encoding":{"x":{"datum":3,"type":"quantitative","axis":{"title":null}},"y":{"field":"N","type":"quantitative","axis":null}}},
{"transform":[{"filter":"datum.k=='b'"}],"mark":{"type":"rule","color":"#C8C8C8","strokeWidth":2},"encoding":{"y":{"datum":0.5,"type":"quantitative","axis":null}}},
{"transform":[{"filter":"datum.k=='s'"}],"mark":{"type":"point","filled":false,"color":"#BEBEBE","opacity":1,"size":250,"strokeWidth":2.4},"encoding":{"x":{"datum":1,"type":"quantitative","axis":{"title":null}},"y":{"field":"S","type":"quantitative","axis":null}}},
{"transform":[{"filter":"datum.k=='s'"}],"mark":{"type":"point","filled":false,"color":"#BEBEBE","opacity":1,"size":250,"strokeWidth":2.4},"encoding":{"x":{"datum":2,"type":"quantitative","axis":{"title":null}},"y":{"field":"U","type":"quantitative","axis":null}}},
{"transform":[{"filter":"datum.k=='s'"}],"mark":{"type":"point","filled":false,"color":"#BEBEBE","opacity":1,"size":250,"strokeWidth":2.4},"encoding":{"x":{"datum":3,"type":"quantitative","axis":{"title":null}},"y":{"field":"N","type":"quantitative","axis":null}}},
{"transform":[{"filter":"datum.k=='r'"}],"mark":{"type":"point","filled":true,"color":"#CD5C5C","opacity":1,"size":520},"encoding":{"x":{"datum":1,"type":"quantitative","axis":{"title":null}},"y":{"field":"S","type":"quantitative","axis":null}}},
{"transform":[{"filter":"datum.k=='r'"}],"mark":{"type":"point","filled":true,"color":"#CD5C5C","opacity":1,"size":520},"encoding":{"x":{"datum":2,"type":"quantitative","axis":{"title":null}},"y":{"field":"U","type":"quantitative","axis":null}}},
{"transform":[{"filter":"datum.k=='r'"}],"mark":{"type":"point","filled":true,"color":"#CD5C5C","opacity":1,"size":520},"encoding":{"x":{"datum":3,"type":"quantitative","axis":{"title":null}},"y":{"field":"N","type":"quantitative","axis":null}}},
{"transform":[{"filter":"datum.k=='b'"}],"mark":{"type":"point","filled":true,"color":"black","opacity":1,"size":520},"encoding":{"x":{"datum":1,"type":"quantitative","axis":{"title":null}},"y":{"field":"S","type":"quantitative","axis":null}}},
{"transform":[{"filter":"datum.k=='b'"}],"mark":{"type":"point","filled":true,"color":"black","opacity":1,"size":520},"encoding":{"x":{"datum":2,"type":"quantitative","axis":{"title":null}},"y":{"field":"U","type":"quantitative","axis":null}}},
{"transform":[{"filter":"datum.k=='b'"}],"mark":{"type":"point","filled":true,"color":"black","opacity":1,"size":520},"encoding":{"x":{"datum":3,"type":"quantitative","axis":{"title":null}},"y":{"field":"N","type":"quantitative","axis":null}}},
{"transform":[{"filter":"datum.k=='b'"}],"mark":{"type":"text","fontSize":32,"font":"Liberation Sans","align":"center","baseline":"middle","color":"black"},"encoding":{"x":{"datum":1,"type":"quantitative","axis":{"title":null}},"y":{"datum":1.03,"type":"quantitative","axis":null},"text":{"field":"tS"}}},
{"transform":[{"filter":"datum.k=='b'"}],"mark":{"type":"text","fontSize":32,"font":"Liberation Sans","align":"center","baseline":"middle","color":"black"},"encoding":{"x":{"datum":2,"type":"quantitative","axis":{"title":null}},"y":{"datum":1.03,"type":"quantitative","axis":null},"text":{"field":"tU"}}},
{"transform":[{"filter":"datum.k=='b'"}],"mark":{"type":"text","fontSize":32,"font":"Liberation Sans","align":"center","baseline":"middle","color":"black"},"encoding":{"x":{"datum":3,"type":"quantitative","axis":{"title":null}},"y":{"datum":1.03,"type":"quantitative","axis":null},"text":{"field":"tN"}}},
{"transform":[{"filter":"datum.k=='b'"}],"mark":{"type":"text","fontSize":38,"font":"Liberation Sans","align":"left","baseline":"middle","color":"black"},"encoding":{"x":{"datum":0.46,"type":"quantitative","axis":{"title":null}},"y":{"datum":1.03,"type":"quantitative","axis":null},"text":{"field":"L"}}}
]}},
{"spacing":29,"vconcat":[
{"width":456,"height":530,"title":{"text":"Scaled Difference","offset":14},"layer":[
{"data":{"name":"sc"},"transform":[{"filter":"datum.p=='E'"}],"mark":{"type":"point","filled":true,"color":"#666666","opacity":1,"size":400},"encoding":{"x":{"field":"x","type":"quantitative","scale":{"domain":[-0.97,0.97],"nice":false,"zero":false},"axis":{"values":[-0.92,-0.5,0,0.5,0.92],"labelExpr":"datum.value<-0.9?'U':datum.value>0.9?'S':datum.value<0?'-0.5':datum.value>0?'0.5':'0.0'","tickOpacity":{"condition":{"test":"abs(datum.value)>0.9","value":0},"value":1},"labelPadding":{"condition":{"test":"abs(datum.value)>0.9","value":4},"value":12},"title":"Y\u1d62\u2082\u2002(old nonwords)","titlePadding":11,"titleFontSize":33.5}},"y":{"field":"y","type":"quantitative","scale":{"domain":[-0.97,0.97],"nice":false,"zero":false},"axis":{"values":[-0.92,-0.5,0,0.5,0.92],"labelExpr":"datum.value<-0.9?'U':datum.value>0.9?'S':datum.value<0?'-0.5':datum.value>0?'0.5':'0.0'","tickOpacity":{"condition":{"test":"abs(datum.value)>0.9","value":0},"value":1},"labelAngle":-90,"labelAlign":"center","labelBaseline":"bottom","labelPadding":3,"title":"Y\u1d62\u2081\u2002(old words)","titlePadding":29,"titleFontSize":33.5}}}},
{"data":{"values":[{}]},"mark":{"type":"rule","color":"#CD5C5C","strokeWidth":3.5},"encoding":{"x":{"datum":-0.97,"type":"quantitative","axis":{"title":"Y\u1d62\u2082\u2002(old nonwords)"}},"y":{"datum":-0.97,"type":"quantitative","axis":{"title":"Y\u1d62\u2081\u2002(old words)"}},"x2":{"datum":0.97},"y2":{"datum":0.97}}},
{"data":{"values":[{}]},"mark":{"type":"text","text":"E.","fontSize":38,"font":"Liberation Sans","align":"left","baseline":"middle","color":"black"},"encoding":{"x":{"datum":-0.927,"type":"quantitative","axis":{"title":"Y\u1d62\u2082\u2002(old nonwords)"}},"y":{"datum":0.855,"type":"quantitative","axis":{"title":"Y\u1d62\u2081\u2002(old words)"}}}}
]},
{"width":456,"height":530,"layer":[
{"data":{"name":"sc"},"transform":[{"filter":"datum.p=='F'"}],"mark":{"type":"point","filled":true,"color":"#666666","opacity":1,"size":400},"encoding":{"x":{"field":"x","type":"quantitative","scale":{"domain":[-0.97,0.97],"nice":false,"zero":false},"axis":{"values":[-0.92,-0.5,0,0.5,0.92],"labelExpr":"datum.value<-0.9?'U':datum.value>0.9?'S':datum.value<0?'-0.5':datum.value>0?'0.5':'0.0'","tickOpacity":{"condition":{"test":"abs(datum.value)>0.9","value":0},"value":1},"labelPadding":{"condition":{"test":"abs(datum.value)>0.9","value":4},"value":12},"title":"Y\u1d62\u2084\u2002(new nonwords)","titlePadding":11,"titleFontSize":33.5}},"y":{"field":"y","type":"quantitative","scale":{"domain":[-0.97,0.97],"nice":false,"zero":false},"axis":{"values":[-0.92,-0.5,0,0.5,0.92],"labelExpr":"datum.value<-0.9?'U':datum.value>0.9?'S':datum.value<0?'-0.5':datum.value>0?'0.5':'0.0'","tickOpacity":{"condition":{"test":"abs(datum.value)>0.9","value":0},"value":1},"labelAngle":-90,"labelAlign":"center","labelBaseline":"bottom","labelPadding":3,"title":"Y\u1d62\u2083\u2002(new words)","titlePadding":29,"titleFontSize":33.5}}}},
{"data":{"values":[{}]},"mark":{"type":"rule","color":"#CD5C5C","strokeWidth":3.5},"encoding":{"x":{"datum":-0.97,"type":"quantitative","axis":{"title":"Y\u1d62\u2084\u2002(new nonwords)"}},"y":{"datum":-0.97,"type":"quantitative","axis":{"title":"Y\u1d62\u2083\u2002(new words)"}},"x2":{"datum":0.97},"y2":{"datum":0.97}}},
{"data":{"values":[{}]},"mark":{"type":"text","text":"F.","fontSize":38,"font":"Liberation Sans","align":"left","baseline":"middle","color":"black"},"encoding":{"x":{"datum":-0.927,"type":"quantitative","axis":{"title":"Y\u1d62\u2084\u2002(new nonwords)"}},"y":{"datum":0.855,"type":"quantitative","axis":{"title":"Y\u1d62\u2083\u2002(new words)"}}}}
]}
]}
]
}
